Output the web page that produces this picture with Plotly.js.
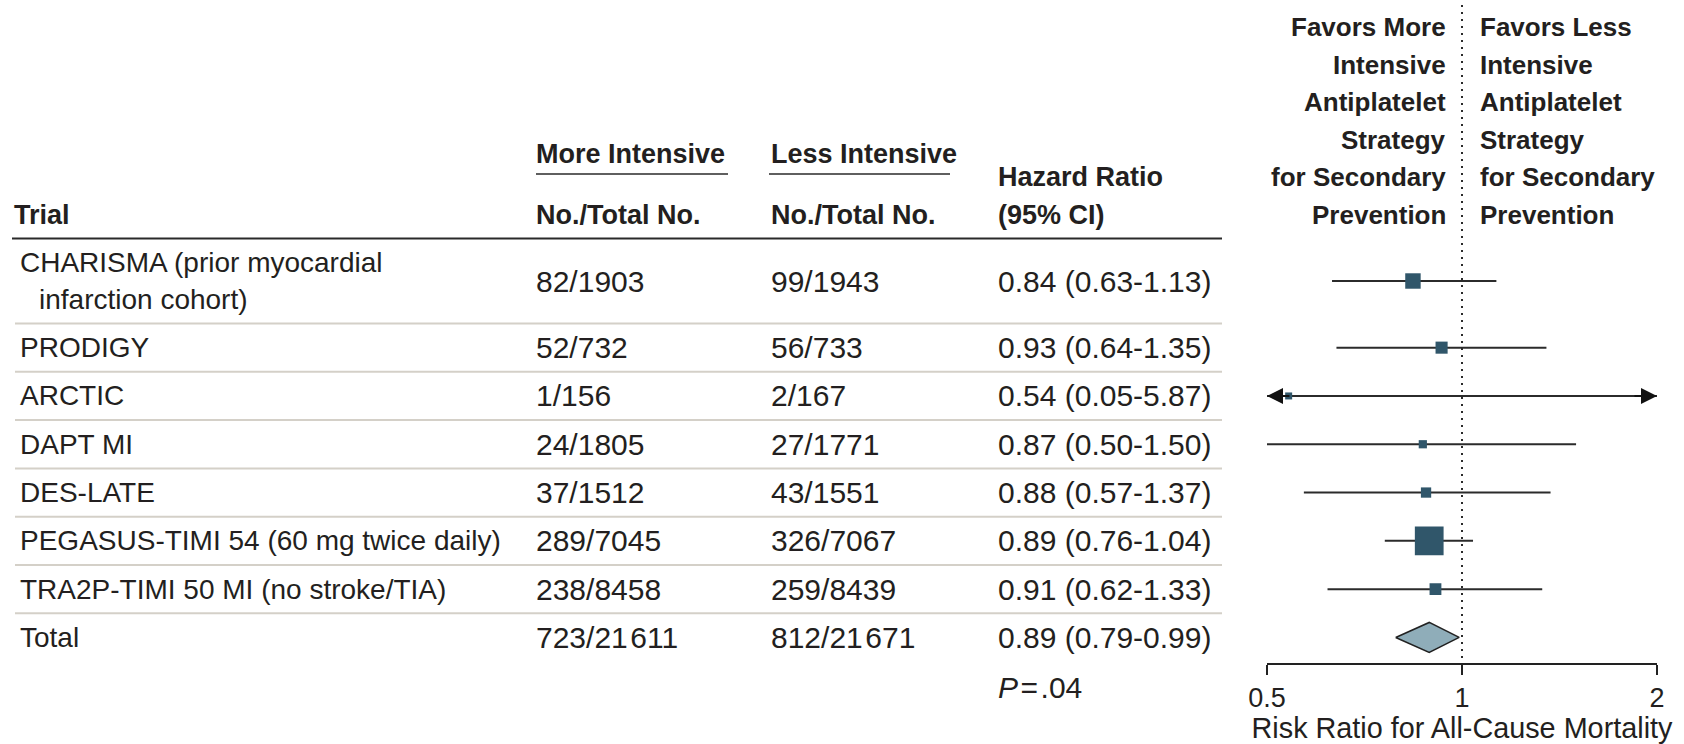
<!DOCTYPE html>
<html><head><meta charset="utf-8">
<script src="https://cdn.plot.ly/plotly-3.0.1.min.js"></script>
<style>html,body{margin:0;padding:0;background:#fff;}#chart{width:1684px;height:744px;}</style>
</head><body><div id="chart"></div>
<script>
// ---------- data ----------
const trials = ["CHARISMA (prior myocardial\ninfarction cohort)", "PRODIGY", "ARCTIC", "DAPT MI", "DES-LATE", "PEGASUS-TIMI 54 (60 mg twice daily)", "TRA2P-TIMI 50 MI (no stroke/TIA)"];
const moreEvents = [82, 52, 1, 24, 37, 289, 238];
const moreTotal  = [1903, 732, 156, 1805, 1512, 7045, 8458];
const lessEvents = [99, 56, 2, 27, 43, 326, 259];
const lessTotal  = [1943, 733, 167, 1771, 1551, 7067, 8439];
const hr     = [0.84, 0.93, 0.54, 0.87, 0.88, 0.89, 0.91];
const ciLow  = [0.63, 0.64, 0.05, 0.50, 0.57, 0.76, 0.62];
const ciHigh = [1.13, 1.35, 5.87, 1.50, 1.37, 1.04, 1.33];
const totalLabel = "Total";
const totalMore = [723, 21611];
const totalLess = [812, 21671];
const totalEstimate = [0.89, 0.79, 0.99];
const pValue = ".04";
const tickVals = [0.5, 1, 2];
const tickText = ["0.5", "1", "2"];
const favorsMore = ["Favors More", "Intensive", "Antiplatelet", "Strategy", "for Secondary", "Prevention"];
const favorsLess = ["Favors Less", "Intensive", "Antiplatelet", "Strategy", "for Secondary", "Prevention"];
const axisTitle = "Risk Ratio for All-Cause Mortality";

// ---------- layout constants ----------
const W = 1684, H = 744;
const FONT = "Liberation Sans, Arial, sans-serif";
const INK = "#231f20";
const axisY = 662.7, headerLineY = 238.5, rowH = 48.3, extraLineH = 36.7, textLineH = 37;
const xMin = tickVals[0], xMax = tickVals[tickVals.length - 1];
const xDomain = [1267 / W, 1657 / W];

function fmt(n) {
  const s = String(n);
  return n >= 10000 ? s.replace(/(\d)(?=(\d{3})+$)/g, "$1\u200A") : s;
}
function ciText(e, l, h) { return e.toFixed(2) + " (" + l.toFixed(2) + "-" + h.toFixed(2) + ")"; }

// row centres
const centers = [], seps = [];
let yCur = headerLineY;
trials.forEach(t => {
  const n = t.split("\n").length;
  const h = rowH + (n - 1) * extraLineH;
  centers.push(yCur + h / 2);
  yCur += h;
  seps.push(yCur);
});
const totalCenter = yCur + rowH / 2;

const ann = [];
function txt(s, xpx, y, size, opts) {
  opts = opts || {};
  ann.push({xref: "paper", yref: "paper", x: xpx / W, y: 1 - y / H, text: s, showarrow: false,
    xanchor: opts.anchor || "left", yanchor: "middle",
    font: {family: FONT, size: size, color: INK}});
}
const dy = 0;

// headers
txt("<b>Trial</b>", 12, 214.8, 27);
txt("<b>More Intensive</b>", 534, 153.6, 27);
txt("<b>Less Intensive</b>", 769, 153.6, 27);
txt("<b>No./Total No.</b>", 534, 214.8, 27);
txt("<b>No./Total No.</b>", 769, 214.8, 27);
txt("<b>Hazard Ratio</b>", 996, 177, 27);
txt("<b>(95% CI)</b>", 996, 214.8, 27);
favorsMore.forEach((s, i) => txt("<b>" + s + "</b>", 1448, 27 + i * 37.6, 26, {anchor: "right"}));
favorsLess.forEach((s, i) => txt("<b>" + s + "</b>", 1478, 27 + i * 37.6, 26));

// rows
trials.forEach((t, i) => {
  const lines = t.split("\n");
  lines.forEach((ln, j) => {
    const y = centers[i] + dy + (j - (lines.length - 1) / 2) * textLineH;
    txt(ln, j === 0 ? 18 : 37, y, 28);
  });
  txt(moreEvents[i] + "/" + fmt(moreTotal[i]), 534, centers[i] + dy, 30);
  txt(lessEvents[i] + "/" + fmt(lessTotal[i]), 769, centers[i] + dy, 30);
  txt(ciText(hr[i], ciLow[i], ciHigh[i]), 996, centers[i] + dy, 30);
});
txt(totalLabel, 18, totalCenter + dy, 28);
txt(totalMore[0] + "/" + fmt(totalMore[1]), 534, totalCenter + dy, 30);
txt(totalLess[0] + "/" + fmt(totalLess[1]), 769, totalCenter + dy, 30);
txt(ciText(totalEstimate[0], totalEstimate[1], totalEstimate[2]), 996, totalCenter + dy, 30);
txt("<i>P</i>\u200A=\u200A" + pValue, 996, 687, 30);

// arrows for clipped CIs
trials.forEach((t, i) => {
  if (ciLow[i] < xMin) ann.push({xref: "x", yref: "y", x: Math.log10(xMin), y: centers[i], ax: 24, ay: 0,
    text: "", showarrow: true, arrowhead: 2, arrowsize: 1.6, arrowwidth: 2, arrowcolor: "#111"});
  if (ciHigh[i] > xMax) ann.push({xref: "x", yref: "y", x: Math.log10(xMax), y: centers[i], ax: -24, ay: 0,
    text: "", showarrow: true, arrowhead: 2, arrowsize: 1.6, arrowwidth: 2, arrowcolor: "#111"});
});

// shapes
const shapes = [];
shapes.push({type: "line", xref: "paper", yref: "y", x0: 12 / W, x1: 1222 / W, y0: headerLineY, y1: headerLineY,
  line: {color: "#2a2a2a", width: 2}});
seps.forEach(s => shapes.push({type: "line", xref: "paper", yref: "y", x0: 15 / W, x1: 1222 / W, y0: s, y1: s,
  line: {color: "#d4d0c8", width: 2}}));
[[536, 728], [769, 950]].forEach(p => shapes.push({type: "line", xref: "paper", yref: "y", x0: p[0] / W, x1: p[1] / W,
  y0: 174, y1: 174, line: {color: "#2a2a2a", width: 1.5}}));
shapes.push({type: "line", xref: "x", yref: "y", x0: 1, x1: 1, y0: 5, y1: axisY,
  line: {color: "#2a2a2a", width: 2, dash: "2px,5px"}});

// traces
const clip = v => Math.min(xMax, Math.max(xMin, v));
const ciX = [], ciY = [];
trials.forEach((t, i) => { ciX.push(clip(ciLow[i]), clip(ciHigh[i]), null); ciY.push(centers[i], centers[i], null); });
const sizes = trials.map((t, i) => {
  const se = (Math.log(ciHigh[i]) - Math.log(ciLow[i])) / (2 * 1.96);
  return Math.max(7, 2.3 / se);
});
const [te, tl, th] = totalEstimate;
const dh = 15;
const data = [
  {type: "scatter", mode: "lines", x: ciX, y: ciY, line: {color: "#2b2b2b", width: 2}, hoverinfo: "skip", cliponaxis: true},
  {type: "scatter", mode: "markers", x: hr, y: centers, marker: {symbol: "square", size: sizes, color: "#30566a", opacity: 1, line: {width: 0}}},
  {type: "scatter", mode: "lines", x: [tl, te, th, te, tl], y: [totalCenter, totalCenter - dh, totalCenter, totalCenter + dh, totalCenter],
    fill: "toself", fillcolor: "#8fadb9", line: {color: "#222", width: 1.5}}
];

const layout = {
  width: W, height: H, margin: {l: 0, r: 0, t: 0, b: 0},
  paper_bgcolor: "#fff", plot_bgcolor: "rgba(0,0,0,0)", showlegend: false,
  font: {family: FONT, color: INK},
  xaxis: {type: "log", domain: xDomain, range: [Math.log10(xMin), Math.log10(xMax)],
    tickvals: tickVals, ticktext: tickText, ticks: "outside", ticklen: 10, tickwidth: 2, tickcolor: "#222",
    showline: true, linewidth: 2, linecolor: "#222", showgrid: false, zeroline: false,
    tickfont: {family: FONT, size: 27, color: INK}, fixedrange: true,
    title: {text: axisTitle, font: {family: FONT, size: 28.8, color: INK}, standoff: 1}},
  yaxis: {domain: [1 - axisY / H, 1], range: [axisY, 0], visible: false, fixedrange: true},
  shapes: shapes, annotations: ann
};
Plotly.newPlot("chart", data, layout, {displayModeBar: false, staticPlot: true});
</script></body></html>
